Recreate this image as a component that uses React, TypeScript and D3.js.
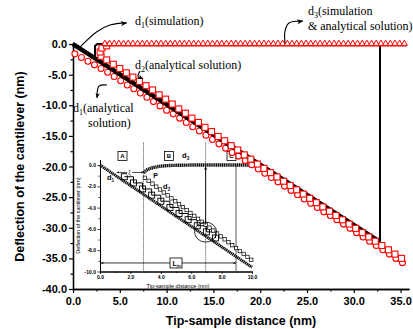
import { useEffect, useRef } from 'react';
import * as d3 from 'd3';

// main axes
const xTicks = [0, 5, 10, 15, 20, 25, 30, 35];
const xMinorTicks = [2.5, 7.5, 12.5, 17.5, 22.5, 27.5, 32.5];
const yTicks = [0, -5, -10, -15, -20, -25, -30, -35, -40];
const yMinorTicks = [-2.5, -7.5, -12.5, -17.5, -22.5, -27.5, -32.5, -37.5];

// d1 analytical solution (red circles)
const d1AnalyticX = [0.2, 0.9, 1.6, 2.3, 3.0, 3.7, 4.4, 5.1, 5.8, 6.5, 7.2, 7.9, 8.6, 9.3, 10.0, 10.7, 11.4, 12.1, 12.8, 13.5, 14.2, 14.9, 15.6, 16.3, 17.0, 17.7, 18.4, 19.1, 19.8, 20.5, 21.2, 21.9, 22.6, 23.3, 24.0, 24.7, 25.4, 26.1, 26.8, 27.5, 28.2, 28.9, 29.6, 30.3, 31.0, 31.7, 32.4, 33.1, 33.8, 34.5, 35.2];
const d1AnalyticY = [-1.6, -2.2, -2.8, -3.4, -4.0, -4.6, -5.3, -6.0, -6.7, -7.3, -8.0, -8.7, -9.4, -10.1, -10.8, -11.4, -12.1, -12.8, -13.5, -14.2, -14.9, -15.6, -16.3, -17.0, -17.7, -18.3, -19.0, -19.7, -20.4, -21.1, -21.8, -22.5, -23.2, -23.9, -24.6, -25.3, -26.0, -26.7, -27.4, -28.0, -28.7, -29.4, -30.1, -30.8, -31.5, -32.2, -32.9, -33.6, -34.3, -35.0, -35.7];

// d2 analytical solution (red squares)
const d2AnalyticX = [3.0, 3.6, 4.3, 5.0, 5.7, 6.4, 7.1, 7.8, 8.5, 9.2, 9.9, 10.6, 11.3, 12.0, 12.7, 13.4, 14.1, 14.8, 15.5, 16.2, 16.9, 17.6, 18.3, 19.0, 19.7, 20.4, 21.1, 21.8, 22.5, 23.2, 23.9, 24.6, 25.3, 26.0, 26.7, 27.4, 28.1, 28.8, 29.5, 30.2, 30.9, 31.6, 32.3, 33.0, 33.7, 34.4, 35.1];
const d2AnalyticY = [-2.0, -2.6, -3.3, -4.0, -4.7, -5.4, -6.1, -6.8, -7.5, -8.3, -9.0, -9.8, -10.6, -11.3, -12.1, -12.8, -13.6, -14.3, -15.1, -15.8, -16.6, -17.3, -18.1, -18.8, -19.6, -20.3, -21.0, -21.7, -22.4, -23.1, -23.8, -24.5, -25.2, -25.9, -26.6, -27.3, -28.0, -28.7, -29.4, -30.1, -30.8, -31.5, -32.2, -32.9, -33.6, -34.3, -35.0];

// d3 analytical solution near the jump (red squares)
const d3AnalyticX = [2.9, 3.1, 3.6];
const d3AnalyticY = [-1.3, -0.65, -0.3];

// d3 simulation (red triangles)
const d3SimX = [3.4, 3.9, 4.4, 4.9, 5.4, 5.9, 6.4, 6.9, 7.4, 7.9, 8.4, 8.9, 9.4, 9.9, 10.4, 10.9, 11.4, 11.9, 12.4, 12.9, 13.4, 13.9, 14.4, 14.9, 15.4, 15.9, 16.4, 16.9, 17.4, 17.9, 18.4, 18.9, 19.4, 19.9, 20.4, 20.9, 21.4, 21.9, 22.4, 22.9, 23.4, 23.9, 24.4, 24.9, 25.4, 25.9, 26.4, 26.9, 27.4, 27.9, 28.4, 28.9, 29.4, 29.9, 30.4, 30.9, 31.4, 31.9, 32.4, 32.9, 33.4, 33.9, 34.4, 34.9, 35.4];
const d3SimY = [0, 0, 0, 0, 0, 0, 0, 0, 0, 0, 0, 0, 0, 0, 0, 0, 0, 0, 0, 0, 0, 0, 0, 0, 0, 0, 0, 0, 0, 0, 0, 0, 0, 0, 0, 0, 0, 0, 0, 0, 0, 0, 0, 0, 0, 0, 0, 0, 0, 0, 0, 0, 0, 0, 0, 0, 0, 0, 0, 0, 0, 0, 0, 0, 0];

// d1 simulation (black): approach line and the jump loop
const simApproachX = [0, 32.8];
const simApproachY = [0, -32.3];
const simJumpX = [32.8, 32.8, 2.6, 2.35, 2.35];
const simJumpY = [-32.3, 0, 0, -0.3, -2.3];

// inset
const insetXTicks = [0, 2, 4, 6, 8, 10];
const insetXMinor = [1, 3, 5, 7, 9];
const insetYTicks = [0, -2, -4, -6, -8, -10];
const insetYMinor = [-1, -3, -5, -7, -9];
const insetD1X = [0, 10];
const insetD1Y = [0, -9.6];
const insetD2X = [2.95, 3.2, 3.45, 3.7, 3.95, 4.2, 4.45, 4.7, 4.95, 5.2, 5.45, 5.7, 5.95, 6.2, 6.45, 6.7, 6.95, 7.2, 7.45, 7.7, 7.95, 8.2, 8.45, 8.7, 8.95, 9.2, 9.45, 9.7, 9.95];
const insetD2Y = [-1.2, -1.48, -1.75, -2.03, -2.3, -2.58, -2.85, -3.13, -3.4, -3.68, -3.95, -4.23, -4.5, -4.78, -5.05, -5.33, -5.6, -5.88, -6.15, -6.43, -6.7, -6.98, -7.25, -7.53, -7.8, -8.08, -8.35, -8.63, -8.9];
const insetStepX = [1.6, 2.2, 2.8, 3.4, 4.0, 4.6, 5.2, 5.8, 6.4, 7.0, 7.6];
const insetStepY = [-1.1, -1.68, -2.25, -2.83, -3.4, -3.98, -4.55, -5.13, -5.7, -6.28, -6.85];
const insetD3X = [2.86, 3.0, 3.2, 3.5, 3.9, 4.4, 5.2, 6.5, 10.0];
const insetD3Y = [-0.72, -0.55, -0.38, -0.24, -0.13, -0.06, -0.02, 0, 0];
const insetMarks = { xi: 2.86, jump: 6.95, ljtc: 8.95 };

const sans = 'Arial, "Liberation Sans", sans-serif';
const serif = '"Times New Roman", "Liberation Serif", serif';
const red = '#ff0000';

const zip = (xs: number[], ys: number[]) => xs.map((v, i) => [v, ys[i]] as [number, number]);

export default function App() {
  const ref = useRef<SVGSVGElement>(null);

  useEffect(() => {
    if (!ref.current) return;
    const svg = d3.select(ref.current);
    svg.selectAll('*').remove();

    const x = d3.scaleLinear().domain([0, 35.9]).range([73, 409]);
    const y = d3.scaleLinear().domain([0.3, -40]).range([42.2, 289]);

    const arrowHead = (g: any, px: number, py: number, ang: number, s: number) => {
      g.append('path')
        .attr('d', `M0,0L${-s},${-s * 0.45}L${-s * 0.7},0L${-s},${s * 0.45}Z`)
        .attr('transform', `translate(${px},${py}) rotate(${(ang * 180) / Math.PI})`)
        .attr('fill', '#000');
    };

    const curvedArrow = (g: any, pts: [number, number][], s: number) => {
      g.append('path')
        .attr('d', d3.line().curve(d3.curveCatmullRom)(pts))
        .attr('fill', 'none').attr('stroke', '#000').attr('stroke-width', 1.1);
      const a = pts[pts.length - 2], b = pts[pts.length - 1];
      arrowHead(g, b[0], b[1], Math.atan2(b[1] - a[1], b[0] - a[0]), s);
    };

    // ---------- main axes ----------
    const styleAxis = (g: any) => {
      g.selectAll('.domain').attr('stroke-width', 1.3);
      g.selectAll('.tick line').attr('stroke-width', 1.2);
      g.selectAll('text').attr('font-family', sans).attr('font-weight', 'bold').attr('font-size', 11).attr('fill', '#000');
    };
    svg.append('g').attr('transform', `translate(0,${y(-40)})`)
      .call(d3.axisBottom(x).tickValues(xMinorTicks).tickSize(2.5).tickSizeOuter(0).tickFormat(() => ''))
      .call(styleAxis);
    svg.append('g').attr('transform', `translate(0,${y(-40)})`)
      .call(d3.axisBottom(x).tickValues(xTicks).tickSize(4).tickPadding(4).tickSizeOuter(0).tickFormat((d: any) => (+d).toFixed(1)))
      .call(styleAxis);
    svg.append('g').attr('transform', `translate(${x(0)},0)`)
      .call(d3.axisLeft(y).tickValues(yMinorTicks).tickSize(2.5).tickSizeOuter(0).tickFormat(() => ''))
      .call(styleAxis);
    svg.append('g').attr('transform', `translate(${x(0)},0)`)
      .call(d3.axisLeft(y).tickValues(yTicks).tickSize(4).tickPadding(2).tickSizeOuter(0).tickFormat((d: any) => (+d).toFixed(1)))
      .call(styleAxis);

    svg.append('text')
      .attr('transform', `translate(24,${(y(0) + y(-40)) / 2}) rotate(-90)`)
      .attr('text-anchor', 'middle').attr('font-family', sans).attr('font-weight', 'bold').attr('font-size', 12.5)
      .text('Deflection of the cantilever (nm)');
    svg.append('text')
      .attr('x', (x(0) + x(35.9)) / 2).attr('y', 325)
      .attr('text-anchor', 'middle').attr('font-family', sans).attr('font-weight', 'bold').attr('font-size', 12.5)
      .text('Tip-sample distance (nm)');

    // ---------- inset ----------
    const ix = d3.scaleLinear().domain([0, 10]).range([100, 252]);
    const iy = d3.scaleLinear().domain([0.5, -10]).range([159.7, 271.5]);
    const inset = svg.append('g');
    const styleInset = (g: any) => {
      g.selectAll('.domain').attr('stroke-width', 1);
      g.selectAll('.tick line').attr('stroke-width', 0.8);
      g.selectAll('text').attr('font-family', sans).attr('font-weight', 'bold').attr('font-size', 5).attr('fill', '#000');
    };
    inset.append('g').attr('transform', `translate(0,${iy(-10)})`)
      .call(d3.axisBottom(ix).tickValues(insetXMinor).tickSize(1.5).tickSizeOuter(0).tickFormat(() => ''))
      .call(styleInset);
    inset.append('g').attr('transform', `translate(0,${iy(-10)})`)
      .call(d3.axisBottom(ix).tickValues(insetXTicks).tickSize(2.5).tickPadding(1.5).tickSizeOuter(0).tickFormat((d: any) => (+d).toFixed(1)))
      .call(styleInset);
    inset.append('g').attr('transform', `translate(${ix(0)},0)`)
      .call(d3.axisLeft(iy).tickValues(insetYMinor).tickSize(1.5).tickSizeOuter(0).tickFormat(() => ''))
      .call(styleInset);
    inset.append('g').attr('transform', `translate(${ix(0)},0)`)
      .call(d3.axisLeft(iy).tickValues(insetYTicks).tickSize(2.5).tickPadding(1.5).tickSizeOuter(0).tickFormat((d: any) => (+d).toFixed(1)))
      .call(styleInset);
    inset.append('text')
      .attr('transform', `translate(80,${(iy(0.5) + iy(-10)) / 2}) rotate(-90)`)
      .attr('text-anchor', 'middle').attr('font-family', sans).attr('font-size', 5.4)
      .text('Deflection of the cantilever (nm)');
    inset.append('text')
      .attr('x', (ix(0) + ix(10)) / 2 + 2).attr('y', 288)
      .attr('text-anchor', 'middle').attr('font-family', sans).attr('font-size', 5.6)
      .text('Tip-sample distance (nm)');

    // guide lines
    [insetMarks.xi, insetMarks.jump].forEach((v) => {
      inset.append('line').attr('x1', ix(v)).attr('x2', ix(v)).attr('y1', iy(2.1)).attr('y2', iy(-10))
        .attr('stroke', '#333').attr('stroke-width', 0.9).attr('stroke-dasharray', '1,1');
    });
    inset.append('line').attr('x1', ix(insetMarks.ljtc)).attr('x2', ix(insetMarks.ljtc)).attr('y1', iy(0)).attr('y2', iy(-10))
      .attr('stroke', '#777').attr('stroke-width', 1.2);

    const iline = d3.line<[number, number]>().x((d) => ix(d[0])).y((d) => iy(d[1]));
    // d1 inset (dense markers)
    inset.append('path').attr('d', iline(zip(insetD1X, insetD1Y)))
      .attr('fill', 'none').attr('stroke', '#111').attr('stroke-width', 3).attr('stroke-dasharray', '1.4,0.5');
    // staircase with large squares
    inset.append('path').attr('d', iline.curve(d3.curveStepAfter)(zip(insetStepX, insetStepY)))
      .attr('fill', 'none').attr('stroke', '#000').attr('stroke-width', 1);
    iline.curve(d3.curveLinear);
    inset.selectAll('rect.big').data(zip(insetStepX, insetStepY)).enter().append('rect')
      .attr('x', (d) => ix(d[0]) - 3).attr('y', (d) => iy(d[1]) - 3).attr('width', 6).attr('height', 6)
      .attr('fill', 'none').attr('stroke', '#000').attr('stroke-width', 0.9);
    // d2 inset squares
    inset.selectAll('rect.small').data(zip(insetD2X, insetD2Y)).enter().append('rect')
      .attr('x', (d) => ix(d[0]) - 1.7).attr('y', (d) => iy(d[1]) - 1.7).attr('width', 3.4).attr('height', 3.4)
      .attr('fill', '#fff').attr('stroke', '#000').attr('stroke-width', 0.7);
    // d3 inset curve
    inset.append('path').attr('d', d3.line<[number, number]>().x((d) => ix(d[0])).y((d) => iy(d[1])).curve(d3.curveMonotoneX)(zip(insetD3X, insetD3Y)))
      .attr('fill', 'none').attr('stroke', '#111').attr('stroke-width', 3.4).attr('stroke-dasharray', '1.4,0.5');

    // xi arrow
    const xiY = iy(-0.7);
    inset.append('line').attr('x1', ix(1.1)).attr('x2', ix(insetMarks.xi)).attr('y1', xiY).attr('y2', xiY)
      .attr('stroke', '#000').attr('stroke-width', 0.7);
    arrowHead(inset, ix(1.1), xiY, Math.PI, 2.5);
    arrowHead(inset, ix(insetMarks.xi), xiY, 0, 2.5);
    inset.append('rect').attr('x', ix(1.95) - 2.5).attr('y', xiY - 3).attr('width', 5).attr('height', 6).attr('fill', '#fff');
    inset.append('text').attr('x', ix(1.95)).attr('y', xiY + 2).attr('text-anchor', 'middle')
      .attr('font-family', serif).attr('font-size', 6).text('ξ');

    // jump arrow and circle
    inset.append('line').attr('x1', ix(insetMarks.jump)).attr('x2', ix(insetMarks.jump)).attr('y1', iy(-5.6)).attr('y2', iy(-0.2))
      .attr('stroke', '#000').attr('stroke-width', 0.9);
    arrowHead(inset, ix(insetMarks.jump), iy(-0.15), -Math.PI / 2, 3.5);
    inset.append('ellipse').attr('cx', ix(insetMarks.jump)).attr('cy', iy(-6.3)).attr('rx', 11).attr('ry', 10)
      .attr('fill', 'none').attr('stroke', '#000').attr('stroke-width', 0.8);

    // Ljtc arrows
    const lY = iy(-9.2);
    inset.append('line').attr('x1', ix(0.05)).attr('x2', ix(4.6)).attr('y1', lY).attr('y2', lY).attr('stroke', '#000').attr('stroke-width', 0.8);
    inset.append('line').attr('x1', ix(5.4)).attr('x2', ix(insetMarks.ljtc)).attr('y1', lY).attr('y2', lY).attr('stroke', '#000').attr('stroke-width', 0.8);
    arrowHead(inset, ix(0.05), lY, Math.PI, 3);
    arrowHead(inset, ix(insetMarks.ljtc), lY, 0, 3);
    inset.append('rect').attr('x', ix(5.0) - 6).attr('y', lY - 5).attr('width', 12).attr('height', 10)
      .attr('fill', '#fff').attr('stroke', '#000').attr('stroke-width', 0.8);
    const lt = inset.append('text').attr('x', ix(5.0) - 3.5).attr('y', lY + 2.8).attr('font-family', sans).attr('font-weight', 'bold').attr('font-size', 7);
    lt.append('tspan').text('L');
    lt.append('tspan').attr('font-size', 3.5).attr('dy', 1.5).text('jtc');

    // region boxes
    [['A', 1.48], ['B', 4.54], ['C', 8.65]].forEach(([t, v]) => {
      inset.append('rect').attr('x', ix(v as number) - 4.5).attr('y', iy(0.85) - 4.5).attr('width', 9).attr('height', 9)
        .attr('fill', '#fff').attr('stroke', '#000').attr('stroke-width', 0.8);
      inset.append('text').attr('x', ix(v as number)).attr('y', iy(0.85) + 2.2).attr('text-anchor', 'middle')
        .attr('font-family', sans).attr('font-weight', 'bold').attr('font-size', 6).text(t as string);
    });

    const subLabel = (g: any, px: number, py: number, main: string, sub: string, size: number) => {
      const t = g.append('text').attr('x', px).attr('y', py).attr('font-family', sans).attr('font-weight', 'bold').attr('font-size', size);
      t.append('tspan').text(main);
      if (sub) t.append('tspan').attr('font-size', size * 0.6).attr('dy', size * 0.3).text(sub);
    };
    subLabel(inset, ix(0.46), iy(-1.4), 'd', '1', 7.5);
    subLabel(inset, ix(3.5), iy(-1.2), 'P', '', 7);
    subLabel(inset, ix(4.15), iy(-2.25), 'd', '2', 7.5);
    subLabel(inset, ix(5.4), iy(0.66), 'd', '3', 7.5);

    // ---------- main series ----------
    const line = d3.line<[number, number]>().x((d) => x(d[0])).y((d) => y(d[1]));

    svg.selectAll('circle.d1a').data(zip(d1AnalyticX, d1AnalyticY)).enter().append('circle')
      .attr('cx', (d) => x(d[0])).attr('cy', (d) => y(d[1])).attr('r', 3)
      .attr('fill', '#fff').attr('stroke', red).attr('stroke-width', 1.1);

    svg.append('path').attr('d', line(zip(simApproachX, simApproachY)))
      .attr('fill', 'none').attr('stroke', '#000').attr('stroke-width', 4.5);
    svg.append('path').attr('d', line(zip(simJumpX, simJumpY)))
      .attr('fill', 'none').attr('stroke', '#000').attr('stroke-width', 2);

    const sq = 6;
    svg.selectAll('rect.d2a').data(zip(d2AnalyticX, d2AnalyticY).concat(zip(d3AnalyticX, d3AnalyticY))).enter().append('rect')
      .attr('x', (d) => x(d[0]) - sq / 2).attr('y', (d) => y(d[1]) - sq / 2).attr('width', sq).attr('height', sq)
      .attr('fill', '#fff').attr('stroke', red).attr('stroke-width', 1.1);

    svg.append('line').attr('x1', x(d3SimX[0]) - 2).attr('x2', x(d3SimX[d3SimX.length - 1]) + 2)
      .attr('y1', y(0) + 1.6).attr('y2', y(0) + 1.6).attr('stroke', red).attr('stroke-width', 1.6);
    const tri = d3.symbol().type(d3.symbolTriangle).size(16);
    svg.selectAll('path.d3s').data(zip(d3SimX, d3SimY)).enter().append('path')
      .attr('d', tri as any).attr('transform', (d) => `translate(${x(d[0])},${y(d[1]) - 0.4})`)
      .attr('fill', '#fff').attr('stroke', red).attr('stroke-width', 1);

    // ---------- annotations ----------
    const serifLabel = (px: number, py: number, main: string, sub: string, rest: string) => {
      const t = svg.append('text').attr('x', px).attr('y', py).attr('font-family', serif).attr('font-size', 12);
      t.append('tspan').text(main);
      if (sub) t.append('tspan').attr('font-size', 8).attr('dy', 3).text(sub);
      t.append('tspan').attr('dy', sub ? -3 : 0).text(rest);
    };
    serifLabel(x(6.62), y(3.1), 'd', '1', '(simulation)');
    serifLabel(x(6.62), y(-4.0), 'd', '2', '(analytical solution)');
    serifLabel(x(0.0), y(-11.1), 'd', '1', '(analytical');
    serifLabel(x(1.6), y(-13.5), '', '', 'solution)');
    serifLabel(x(25.1), y(4.7), 'd', '3', '(simulation');
    serifLabel(x(25.1), y(2.3), '', '', '& analytical solution)');

    const toPx = (pts: number[][]) => pts.map((p) => [x(p[0]), y(p[1])] as [number, number]);
    curvedArrow(svg, toPx([[0.75, -0.5], [2.55, 2.0], [3.95, 3.1], [5.75, 3.45]]), 6);
    curvedArrow(svg, toPx([[22.65, 0.16], [22.65, 2.12], [23.08, 3.43], [24.58, 3.75]]), 6);
    curvedArrow(svg, toPx([[7.16, -4.4], [6.95, -5.3], [7.48, -5.65]]), 5);
    curvedArrow(svg, toPx([[3.63, -6.69], [2.78, -6.86], [2.56, -8.82]]), 5);
  }, []);

  return (
    <svg ref={ref} width={413} height={329} style={{ position: 'absolute', left: 0, top: 0, background: '#fff' }} />
  );
}
